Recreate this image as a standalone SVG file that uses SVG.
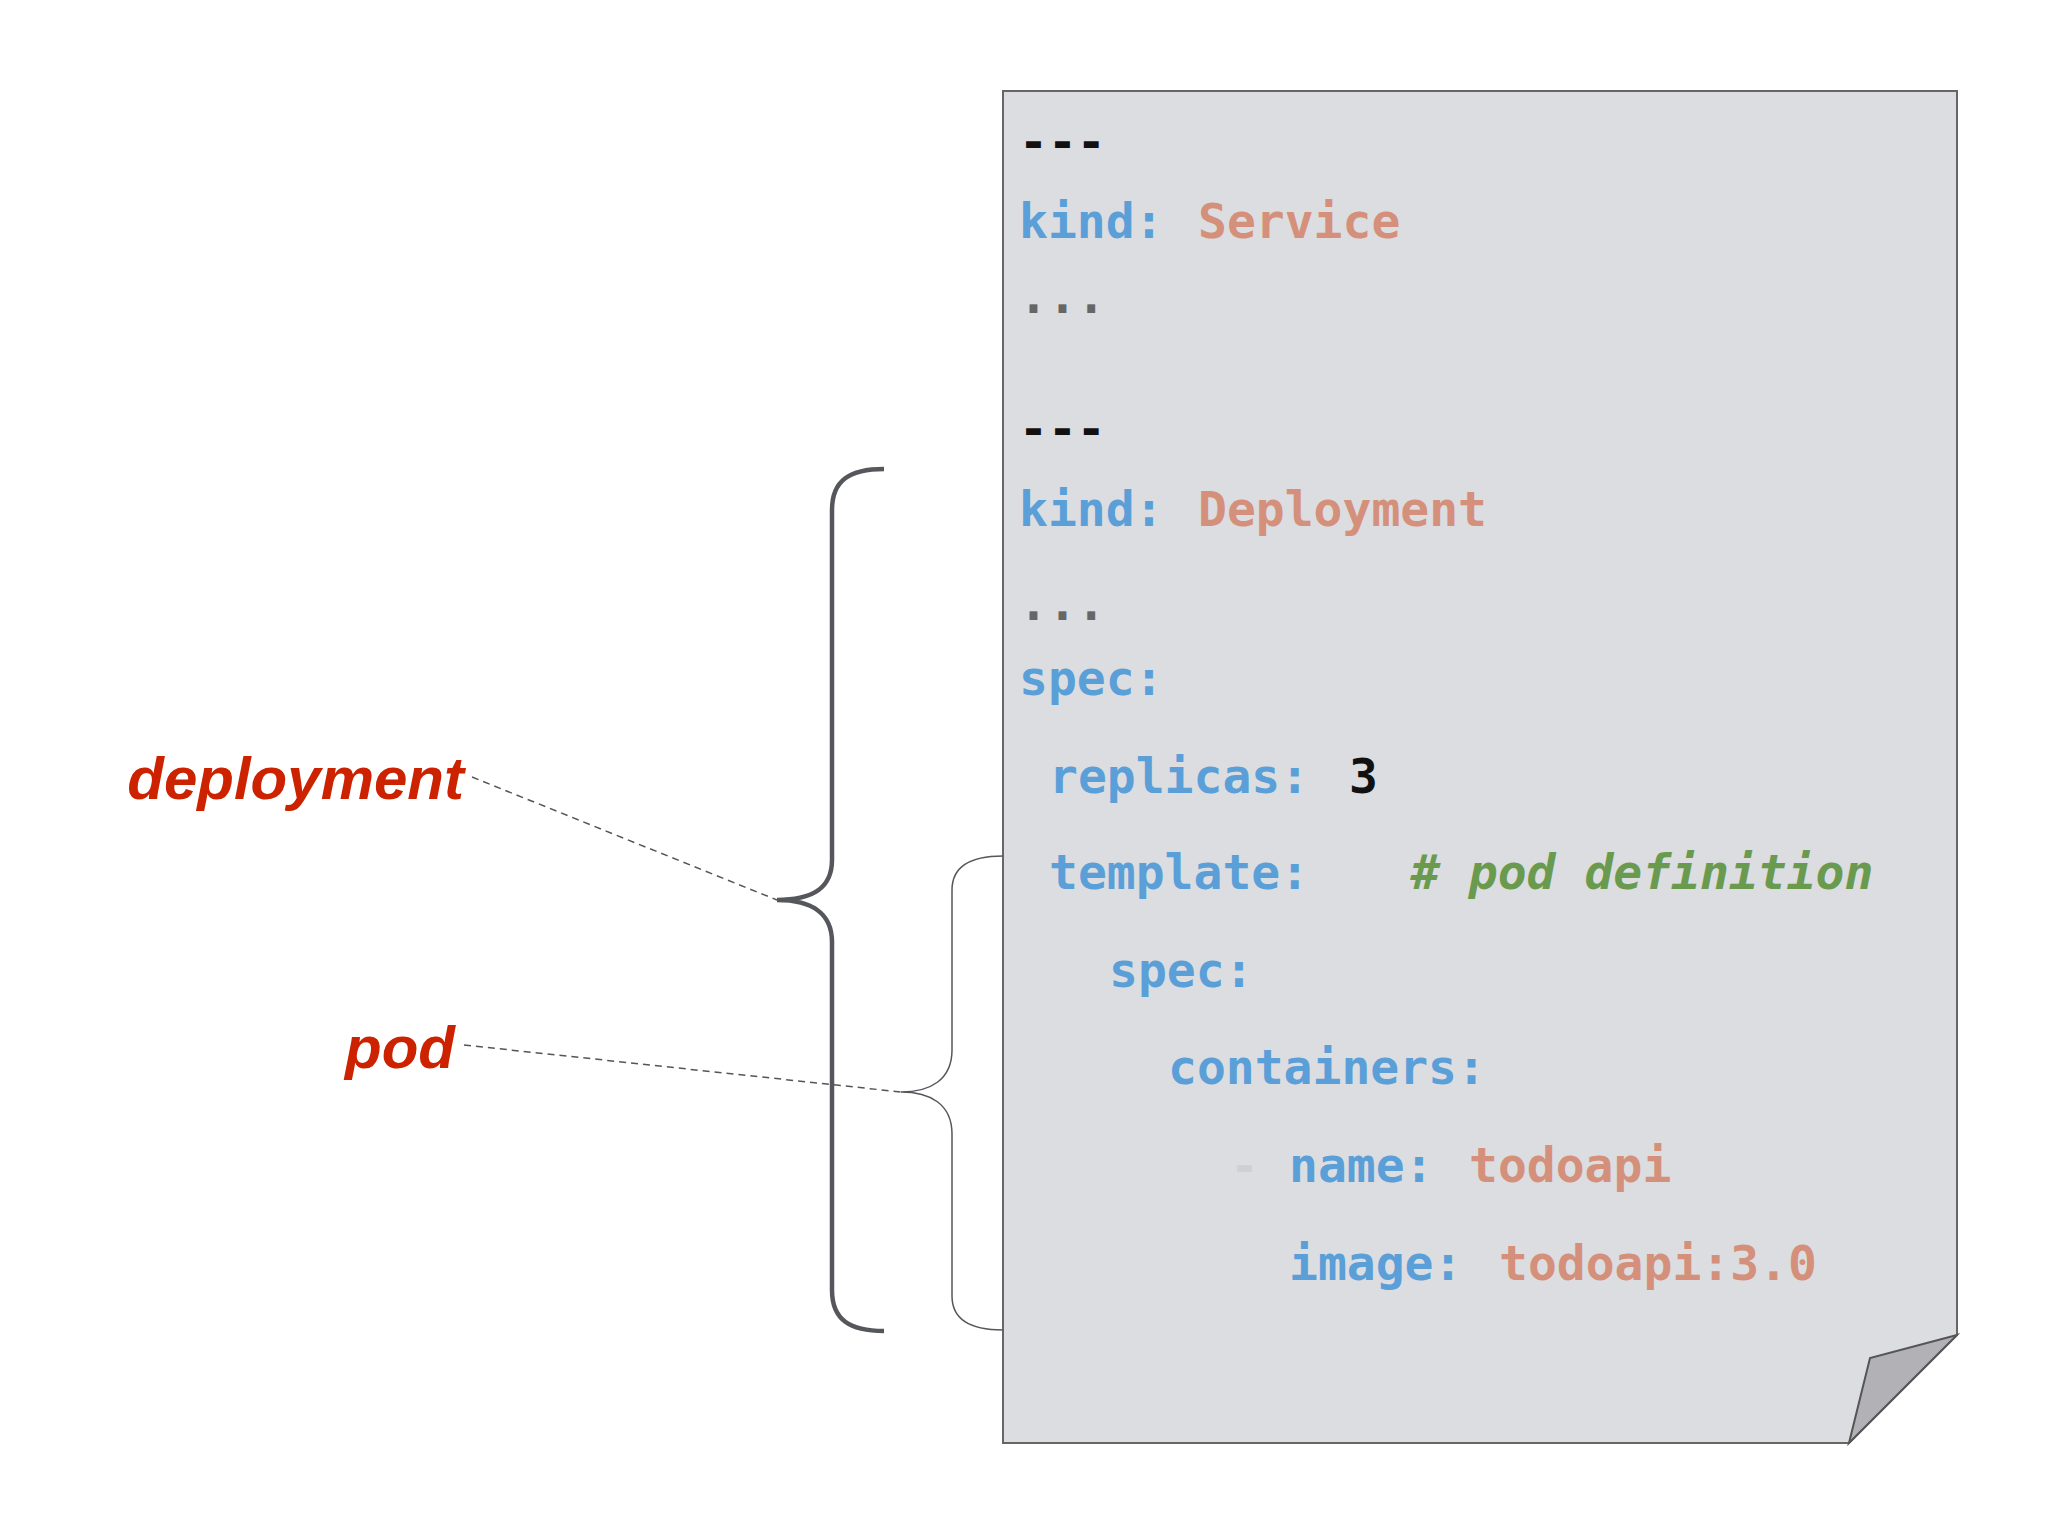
<svg xmlns="http://www.w3.org/2000/svg" width="2048" height="1536" viewBox="0 0 2048 1536">
<style>
.c{font-family:"DejaVu Sans Mono","Liberation Mono",monospace;font-weight:bold;font-size:48px}
.k{fill:#5b9fd8}.v{fill:#d4907a}.g{fill:#6a9a4e;font-style:italic}.b{fill:#111}.d{fill:#666}
.lbl{font-family:"Liberation Sans",Arial,sans-serif;font-weight:bold;font-style:italic;font-size:60px;fill:#cc2200;text-anchor:end}
.dash{fill:none;stroke:#555;stroke-width:1.5;stroke-dasharray:7 5}
</style>
<rect width="2048" height="1536" fill="#fff"/>
<g id="paper">
<path d="M1003 91 H1957 V1335 L1849 1443 H1003 Z" fill="#dcdde0" stroke="#666" stroke-width="2"/>
<path d="M1957 1335 L1870 1358 L1849 1443 Z" fill="#b1b1b6" stroke="#555" stroke-width="2"/>
</g>
<g id="code" class="c">
<text x="1019" y="158" class="b">---</text>
<text x="1019" y="238"><tspan class="k">kind:</tspan><tspan x="1198" class="v">Service</tspan></text>
<text x="1019" y="313" class="d">...</text>
<text x="1019" y="445" class="b">---</text>
<text x="1019" y="526"><tspan class="k">kind:</tspan><tspan x="1198" class="v">Deployment</tspan></text>
<text x="1019" y="620" class="d">...</text>
<text x="1019" y="695" class="k">spec:</text>
<text x="1049" y="793"><tspan class="k">replicas:</tspan><tspan x="1349" class="b">3</tspan></text>
<text x="1049" y="889"><tspan class="k">template:</tspan><tspan x="1411" class="g"># pod definition</tspan></text>
<text x="1109" y="987" class="k">spec:</text>
<text x="1168" y="1084" class="k">containers:</text>
<text x="1230" y="1182"><tspan fill="#cfd0d3">-</tspan><tspan x="1289" class="k">name:</tspan><tspan x="1469" class="v">todoapi</tspan></text>
<text x="1289" y="1280"><tspan class="k">image:</tspan><tspan x="1499" class="v">todoapi:3.0</tspan></text>
</g>
<g id="deployment-brace">
<path d="M884 469 C850 469 832 480 832 510 V860 C832 890 810 900 777 900 C810 900 832 912 832 942 V1290 C832 1320 850 1331 884 1331" fill="none" stroke="#55575c" stroke-width="4.5"/>
</g>
<g id="pod-brace">
<path d="M1003 856 C970 856 952 866 952 890 V1050 C952 1080 930 1092 901 1092 C930 1092 952 1104 952 1134 V1296 C952 1320 970 1330 1003 1330" fill="none" stroke="#55575c" stroke-width="1.5"/>
</g>
<g id="deployment-label"><text x="464" y="799" class="lbl">deployment</text></g>
<g id="pod-label"><text x="455" y="1068" class="lbl">pod</text></g>
<g id="connectors">
<path class="dash" d="M472 777 L777 900"/>
<path class="dash" d="M464 1045 L901 1092"/>
</g>
</svg>
